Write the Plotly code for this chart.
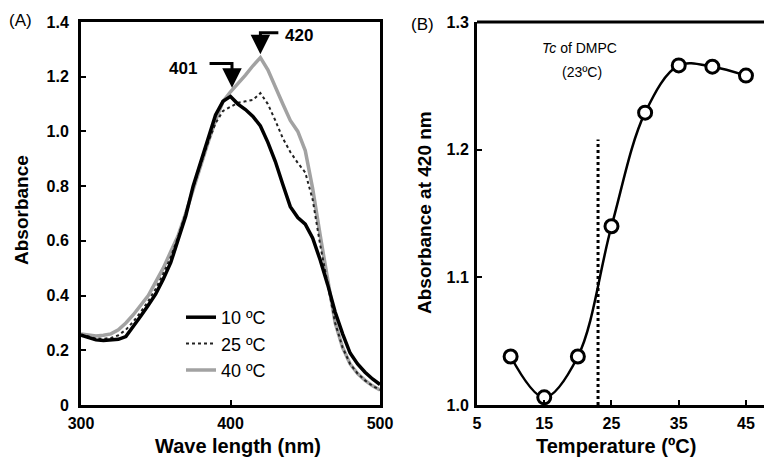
import plotly.graph_objects as go

# ---------------- data ----------------
wavelength = [300, 305, 310, 315, 320, 325, 330, 335, 340, 345, 350, 355, 360, 365, 370,
              375, 380, 385, 390, 395, 400, 405, 410, 415, 420, 425, 430, 435, 440, 445,
              450, 455, 460, 465, 470, 475, 480, 485, 490, 495, 500]
abs_10C = [0.255, 0.245, 0.238, 0.236, 0.237, 0.240, 0.250, 0.285, 0.325, 0.365, 0.406,
           0.460, 0.520, 0.605, 0.690, 0.800, 0.890, 0.980, 1.060, 1.110, 1.128, 1.100,
           1.080, 1.055, 1.020, 0.960, 0.890, 0.806, 0.725, 0.685, 0.661, 0.610, 0.530,
           0.440, 0.340, 0.260, 0.190, 0.150, 0.120, 0.095, 0.075]
abs_25C = [0.258, 0.250, 0.243, 0.242, 0.245, 0.255, 0.275, 0.305, 0.340, 0.380, 0.425,
           0.480, 0.540, 0.615, 0.700, 0.795, 0.880, 0.960, 1.030, 1.075, 1.090, 1.105,
           1.110, 1.115, 1.140, 1.100, 1.040, 0.975, 0.925, 0.885, 0.850, 0.750, 0.585,
           0.440, 0.300, 0.210, 0.150, 0.115, 0.090, 0.070, 0.055]
abs_40C = [0.260, 0.255, 0.252, 0.255, 0.260, 0.275, 0.300, 0.330, 0.365, 0.400, 0.450,
           0.500, 0.560, 0.620, 0.700, 0.790, 0.875, 0.960, 1.040, 1.110, 1.145, 1.175,
           1.206, 1.240, 1.270, 1.225, 1.160, 1.100, 1.040, 1.000, 0.930, 0.790, 0.620,
           0.450, 0.300, 0.210, 0.150, 0.115, 0.090, 0.070, 0.055]
series_names = ["10 ºC", "25 ºC", "40 ºC"]

temperature = [10, 15, 20, 25, 30, 35, 40, 45]
abs_420 = [1.038, 1.006, 1.038, 1.140, 1.229, 1.266, 1.265, 1.258]
tc_dmpc = 23
tc_line_abs = [1.0, 1.208]

peak_labels = ["401", "420"]

xA_ticks = [300, 400, 500]
yA_ticks = [0, 0.2, 0.4, 0.6, 0.8, 1.0, 1.2, 1.4]
yA_ticktext = ["0", "0.2", "0.4", "0.6", "0.8", "1.0", "1.2", "1.4"]
xB_ticks = [5, 15, 25, 35, 45]
yB_ticks = [1.0, 1.1, 1.2, 1.3]
yB_ticktext = ["1.0", "1.1", "1.2", "1.3"]

# ---------------- figure ----------------
W, H = 772, 459
OFF = 8  # page body margin offset
FONT = "Liberation Sans, Arial, sans-serif"


def px(x):
    return (x - OFF) / W


def py(y):
    return 1 - (y - OFF) / H


fig = go.Figure()

fig.add_trace(go.Scatter(x=wavelength, y=abs_40C, mode="lines", name=series_names[2],
                         line=dict(color="#a2a2a2", width=3.5), legendgroup="c",
                         xaxis="x", yaxis="y"))
fig.add_trace(go.Scatter(x=wavelength, y=abs_25C, mode="lines", name=series_names[1],
                         line=dict(color="#222222", width=2, dash="dot"), legendgroup="b",
                         xaxis="x", yaxis="y"))
fig.add_trace(go.Scatter(x=wavelength, y=abs_10C, mode="lines", name=series_names[0],
                         line=dict(color="#000000", width=3.5), legendgroup="a",
                         xaxis="x", yaxis="y"))

fig.add_trace(go.Scatter(x=[tc_dmpc, tc_dmpc], y=tc_line_abs, mode="lines",
                         line=dict(color="#000000", width=3, dash="dot"),
                         showlegend=False, xaxis="x2", yaxis="y2"))
fig.add_trace(go.Scatter(x=temperature, y=abs_420, mode="lines+markers",
                         line=dict(color="#000000", width=2.5, shape="spline", smoothing=1),
                         marker=dict(symbol="circle", size=13, color="#ffffff",
                                     line=dict(color="#000000", width=3)),
                         cliponaxis=False, showlegend=False, xaxis="x2", yaxis="y2"))

axis_common = dict(showgrid=False, zeroline=False, showline=True, linecolor="#000000",
                   linewidth=3, ticks="inside", ticklen=5, tickwidth=2, tickcolor="#000000",
                   automargin=False,
                   tickfont=dict(family=FONT, size=16, color="#000000", weight="bold"))

fig.update_layout(
    width=W, height=H,
    margin=dict(l=0, r=0, t=0, b=0, pad=0, autoexpand=False),
    paper_bgcolor="#ffffff", plot_bgcolor="#ffffff",
    font=dict(family=FONT, color="#000000"),
    xaxis=dict(domain=[px(81), px(380)], range=[300, 500], tickvals=xA_ticks,
               mirror=True, anchor="y", ticklabelstandoff=2, **axis_common),
    yaxis=dict(domain=[py(405), py(22)], range=[0, 1.4], tickvals=yA_ticks,
               ticktext=yA_ticktext, mirror=True, anchor="x", ticklabelstandoff=6,
               **axis_common),
    xaxis2=dict(domain=[px(477), 1.0], range=[5, 50.06], tickvals=xB_ticks,
                anchor="y2", ticklabelstandoff=2, **axis_common),
    yaxis2=dict(domain=[py(405), py(22)], range=[1.0, 1.3], tickvals=yB_ticks,
                ticktext=yB_ticktext, anchor="x2", ticklabelstandoff=2, **axis_common),
    legend=dict(x=px(181), y=py(299), xanchor="left", yanchor="top",
                bgcolor="rgba(0,0,0,0)", font=dict(family=FONT, size=18),
                tracegroupgap=3, traceorder="reversed"),
    showlegend=True,
)

# top border of panel B (no right border in the original)
fig.add_shape(type="line", xref="x2 domain", yref="y2 domain", x0=0, x1=1, y0=1, y1=1,
              line=dict(color="#000000", width=3))

# bent arrows for peak labels (panel A)
fig.add_shape(type="path", xref="x", yref="y",
              path="M 386,1.248 L 401,1.248 L 401,1.19",
              line=dict(color="#000000", width=3))
fig.add_annotation(x=401, y=1.16, ax=401, ay=1.22, xref="x", yref="y", axref="x", ayref="y",
                   text="", showarrow=True, arrowhead=2, arrowsize=1.3, arrowwidth=3,
                   arrowcolor="#000000")
fig.add_annotation(x=368, y=1.23, xref="x", yref="y", text="<b>" + peak_labels[0] + "</b>",
                   showarrow=False, font=dict(family=FONT, size=17))

fig.add_shape(type="path", xref="x", yref="y",
              path="M 432,1.361 L 420,1.361 L 420,1.31",
              line=dict(color="#000000", width=3))
fig.add_annotation(x=420, y=1.282, ax=420, ay=1.335, xref="x", yref="y", axref="x", ayref="y",
                   text="", showarrow=True, arrowhead=2, arrowsize=1.3, arrowwidth=3,
                   arrowcolor="#000000")
fig.add_annotation(x=446, y=1.35, xref="x", yref="y", text="<b>" + peak_labels[1] + "</b>",
                   showarrow=False, font=dict(family=FONT, size=17))

# panel B text
fig.add_annotation(x=20.2, y=1.280, xref="x2", yref="y2", text="<i>Tc</i> of DMPC",
                   showarrow=False, font=dict(family=FONT, size=14))
fig.add_annotation(x=20.6, y=1.261, xref="x2", yref="y2", text="(23ºC)",
                   showarrow=False, font=dict(family=FONT, size=14))

# axis titles and panel letters
xtitle_font = dict(family=FONT, size=20, color="#000000", weight="bold")
ytitle_font = dict(family=FONT, size=19, color="#000000", weight="bold")


def label(x, y, text, font, angle=0):
    fig.add_annotation(x=px(x), y=py(y), xref="paper", yref="paper", text=text,
                       textangle=angle, showarrow=False, font=font,
                       xanchor="center", yanchor="middle")


label(22, 210, "Absorbance", ytitle_font, -90)
label(424, 213, "Absorbance at 420 nm", ytitle_font, -90)
label(238, 446, "Wave length (nm)", xtitle_font)
label(616, 446, "Temperature (ºC)", xtitle_font)
label(20, 20, "(A)", dict(family=FONT, size=17))
label(422, 24, "(B)", dict(family=FONT, size=17))

fig.write_html("out.html")
